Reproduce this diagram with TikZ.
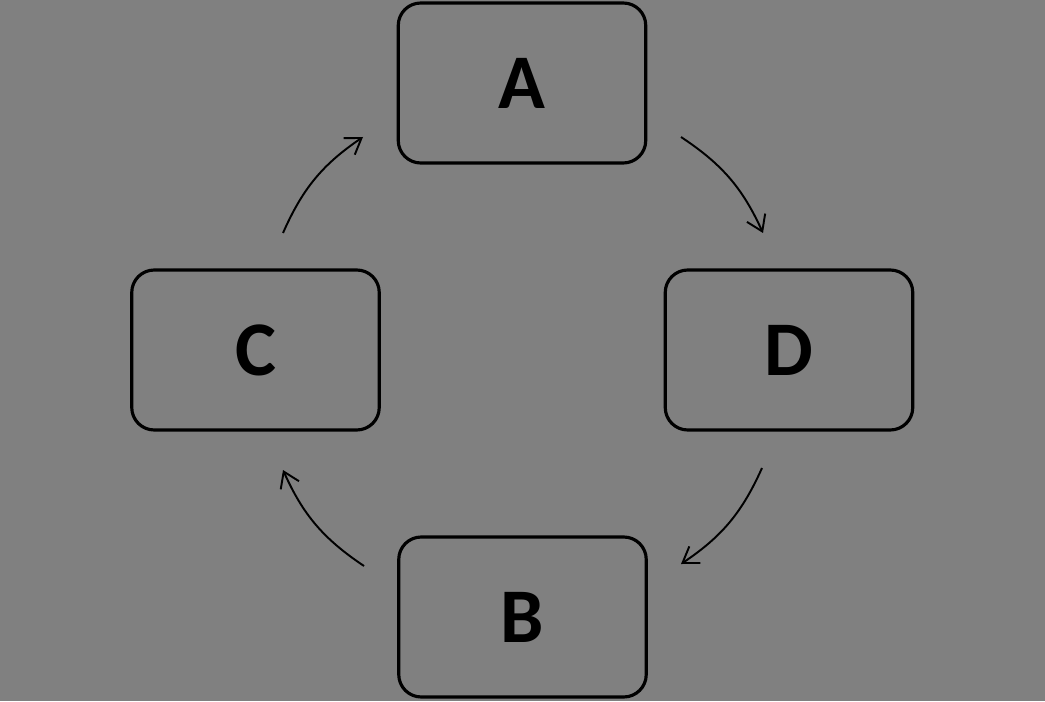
\documentclass[tikz,border=0pt]{standalone}
\usepackage{fontspec}
\setmainfont{Carlito}
\definecolor{BgGray}{RGB}{128,128,128}
\usetikzlibrary{arrows.meta}

\begin{document}
\begin{tikzpicture}[
    stagebox/.style={draw, line width=1.8pt, rounded corners=0.45cm, minimum width=4.95cm, minimum height=3.2cm, font=\fontsize{44}{50}\selectfont\bfseries},
    cycarrow/.style={-{Straight Barb[length=3mm, width=4mm]}, line width=1.1pt, bend left=16}
]
    \fill[BgGray] (0,0) rectangle (20.9,14.02);
    \useasboundingbox (0,0) rectangle (20.9,14.02);

    \node[stagebox] (A) at (10.44,12.36) {A};
    \node[stagebox] (C) at (5.11,7.02) {C};
    \node[stagebox] (D) at (15.78,7.02) {D};
    \node[stagebox] (B) at (10.45,1.68) {B};

    \coordinate (ad1) at (13.62,11.28);
    \coordinate (ad2) at (15.26,9.36);
    \coordinate (db1) at (15.24,4.66);
    \coordinate (db2) at (13.62,2.74);
    \coordinate (bc1) at (7.28,2.70);
    \coordinate (bc2) at (5.66,4.62);
    \coordinate (ca1) at (5.66,9.36);
    \coordinate (ca2) at (7.26,11.28);

    \draw[cycarrow] (ad1) to (ad2);
    \draw[cycarrow] (db1) to (db2);
    \draw[cycarrow] (bc1) to (bc2);
    \draw[cycarrow] (ca1) to (ca2);
\end{tikzpicture}
\end{document}
